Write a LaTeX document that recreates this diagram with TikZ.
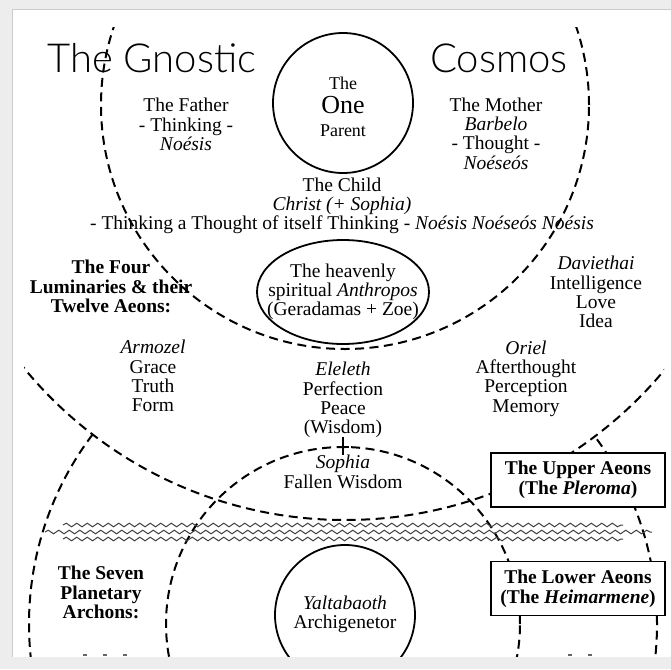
\documentclass[tikz,border=0pt]{standalone}
\usepackage{fontspec}
\setmainfont{Liberation Serif}
\newfontfamily\titlefont{Lato Light}
\usetikzlibrary{decorations.pathmorphing}

\tikzset{
  ring/.style={line width=2pt, dash pattern=on 9pt off 5.5pt},
  rim/.style={line width=1.8pt},
  wave/.style={black!75, line width=1pt, decorate,
    decoration={snake, amplitude=1.8pt, segment length=10.5pt}},
  words/.style={align=center, inner sep=0pt, font=\fontsize{19.5}{19.3}\selectfont},
  strong/.style={words, font=\fontsize{19.5}{19.7}\selectfont\bfseries},
  aeonbox/.style={strong, draw, fill=white, line width=1.5pt,
    minimum width=174pt, minimum height=54pt},
  title/.style={inner sep=0pt, anchor=base west, font=\fontsize{40}{40}\titlefont},
  stub/.style={black!60, line width=1.2pt, dash pattern=on 4pt off 16pt}
}

\begin{document}
\begin{tikzpicture}[x=1pt, y=-1pt]
  \useasboundingbox (0,0) rectangle (671,669);
  \fill[black!7] (0,0) rectangle (671,669);
  \fill[white] (12,10) rectangle (671,657);
  \draw[black!20, line width=1pt] (12,657) -- (12,10) -- (671,10);

  \begin{scope}
    \clip (24,28) rectangle (664,656);
    % the two upper rings
    \draw[ring] (345,105) circle[radius=244pt];
    \draw[ring] (345,105) circle[radius=415pt];
    % the lower rings
    \draw[ring] (343,624) circle[radius=177pt];
    \begin{scope}[even odd rule]
      \clip (0,0) rectangle (671,669) (345,105) circle[radius=415pt];
      \draw[ring] (343,624) circle[radius=314pt];
    \end{scope}
    \draw[rim] (343,103) circle[radius=70pt];
    \draw[rim] (343,292) ellipse[x radius=86pt, y radius=52pt];
    \draw[rim] (345,615) circle[radius=70pt];
  \end{scope}

  % the waters
  \draw[wave] (63,525) -- (623,525);
  \draw[wave] (45,532) -- (652,532);
  \draw[wave] (63,539) -- (623,539);

  \draw[stub] (83,655) -- (130,655);
  \draw[stub] (568,655) -- (600,655);

  \node[title] (gnostic) at (47,72) {The Gnostic};
  \node[title] (cosmos) at (430,72) {Cosmos};

  \node[words, font=\fontsize{18}{23.5}\selectfont] (one) at (343,107)
    {The\\{\fontsize{26}{23.5}\selectfont One}\\Parent};
  \node[words] (father) at (186,124.5) {The Father\\- Thinking -\\\textit{Noésis}};
  \node[words] (mother) at (496,133.5)
    {The Mother\\\textit{Barbelo}\\- Thought -\\\textit{Noéseós}};
  \node[words] (child) at (342,206) {The Child\\\textit{Christ (+ Sophia)}\\
    - Thinking a Thought of itself Thinking - \textit{Noésis Noéseós Noésis}};

  \node[strong] (luminaries) at (111,286.5) {The Four\\Luminaries \& their\\Twelve Aeons:};
  \node[words] (anthropos) at (343,292)
    {The heavenly\\spiritual \textit{Anthropos}\\(Geradamas + Zoe)};
  \node[words] (daviethai) at (596,292) {\textit{Daviethai}\\Intelligence\\Love\\Idea};
  \node[words] (armozel) at (153,376) {\textit{Armozel}\\Grace\\Truth\\Form};
  \node[words] (eleleth) at (343,400) {\textit{Eleleth}\\Perfection\\Peace\\(Wisdom)};
  \node[words] (oriel) at (526,378.5) {\textit{Oriel}\\Afterthought\\Perception\\Memory};
  \node[words] (sophia) at (343,472) {\textit{Sophia}\\Fallen Wisdom};

  \coordinate (fall) at (343,437);
  \draw[line width=1.2pt] (fall) -- (sophia.north);
  \draw[line width=1.2pt] (337,447) -- (349,447);

  \node[strong] (archons) at (101,592.5) {The Seven\\Planetary\\Archons:};
  \node[words] (yaltabaoth) at (345,614) {\textit{Yaltabaoth}\\Archigenetor};

  \node[aeonbox] (upper) at (578,480) {The Upper Aeons\\(The \textit{Pleroma})};
  \node[aeonbox] (lower) at (578,588.5) {The Lower Aeons\\(The \textit{Heimarmene})};
\end{tikzpicture}
\end{document}
